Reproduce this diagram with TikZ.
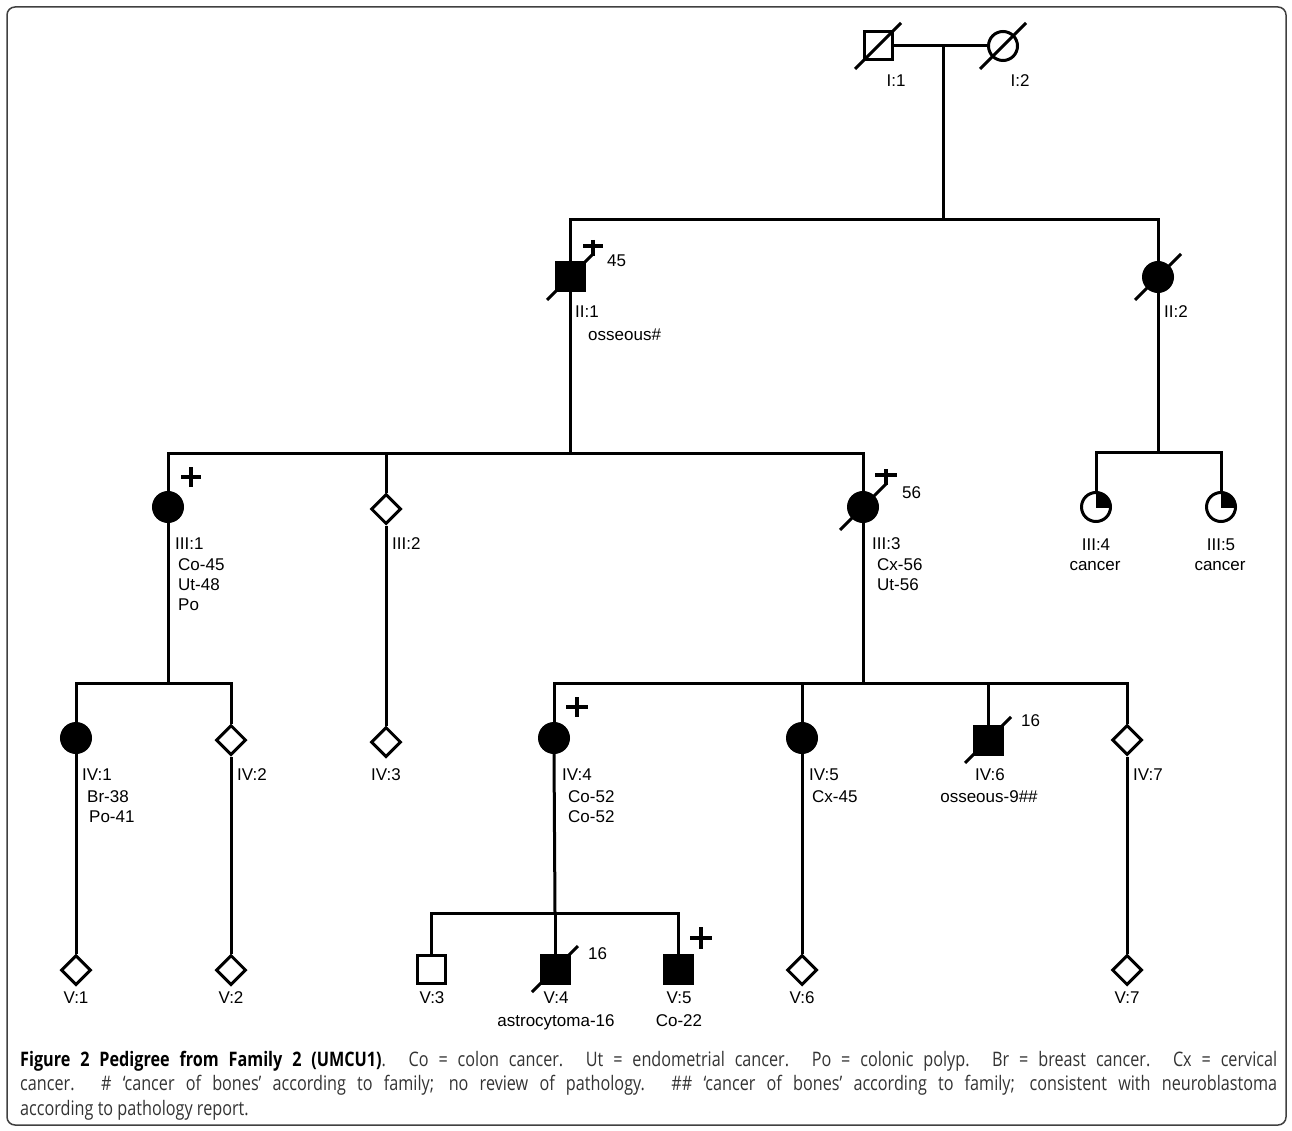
\documentclass[tikz,border=0pt]{standalone}
\usepackage{fontspec}
\setmainfont{Liberation Sans}
\newfontfamily\capfont[FakeStretch=0.81]{Open Sans}
\usetikzlibrary{shapes.geometric}
\definecolor{captxt}{gray}{0.2}
\begin{document}
\begin{tikzpicture}[x=1pt,y=-1pt,
  ped/.style={line width=3pt},
  male/.style={draw, line width=3pt, rectangle, minimum size=28pt, inner sep=0pt, fill=white},
  female/.style={draw, line width=3pt, circle, minimum size=29pt, inner sep=0pt, fill=white},
  unk/.style={draw, line width=3pt, diamond, minimum size=30pt, inner sep=0pt, fill=white},
  aff/.style={fill=black},
  lab/.style={font=\fontsize{17}{20}\selectfont, inner sep=0pt, anchor=base west},
  clab/.style={font=\fontsize{17}{20}\selectfont, inner sep=0pt, anchor=base},
  dec/.style={line width=3pt},
  plusmark/.style={line width=3.5pt}]
\useasboundingbox (0,0) rectangle (1292,1131);
\draw[line width=1.5pt, rounded corners=8pt, black!75] (7,7) rectangle (1286,1125);

% individuals
\node[male] (I1) at (878,46) {};
\node[female] (I2) at (1003,46) {};
\node[male,aff] (II1) at (570,277) {};
\node[female,aff] (II2) at (1158,277) {};
\node[female,aff] (III1) at (168,507) {};
\node[unk] (III2) at (386,509) {};
\node[female,aff] (III3) at (863,507) {};
\node[female] (III4) at (1096,507) {};
\node[female] (III5) at (1221,507) {};
\node[female,aff] (IV1) at (76,738) {};
\node[unk] (IV2) at (231,740) {};
\node[unk] (IV3) at (386,742) {};
\node[female,aff] (IV4) at (554,738) {};
\node[female,aff] (IV5) at (802,738) {};
\node[male,aff] (IV6) at (988,740) {};
\node[unk] (IV7) at (1127,740) {};
\node[unk] (V1) at (76,970) {};
\node[unk] (V2) at (231,970) {};
\node[male] (V3) at (431,969) {};
\node[male,aff] (V4) at (555,969) {};
\node[male,aff] (V5) at (678,969) {};
\node[unk] (V6) at (802,970) {};
\node[unk] (V7) at (1127,970) {};

% quarter fills
\begin{scope}
\clip (III4.center) rectangle ++(20,-20);
\fill (III4.center) circle[radius=15];
\end{scope}
\begin{scope}
\clip (III5.center) rectangle ++(20,-20);
\fill (III5.center) circle[radius=15];
\end{scope}

% junction coordinates
\coordinate (cI) at (943,46);
\coordinate (sII) at (943,220);
\coordinate (sIII) at (570,453);
\coordinate (sIIIb) at (1158,452);
\coordinate (sIVa) at (168,683);
\coordinate (sIVb) at (863,683);
\coordinate (sV) at (555,913);

% connectors
\draw[ped] (I1.east) -- (I2.west);
\draw[ped] (cI) -- (sII);
\draw[ped] (II1.north) |- (sII) -| (II2.north);
\draw[ped] (II1.south) -- (sIII);
\draw[ped] (III1.north) |- (sIII) -| (III3.north);
\draw[ped] (III2.north) -- (III2.north |- sIII);
\draw[ped] (II2.south) -- (sIIIb);
\draw[ped] (III4.north) |- (sIIIb) -| (III5.north);
\draw[ped] (III1.south) -- (sIVa);
\draw[ped] (IV1.north) |- (sIVa) -| (IV2.north);
\draw[ped] (III2.south) -- (IV3.north);
\draw[ped] (III3.south) -- (sIVb);
\draw[ped] (IV4.north) |- (sIVb) -| (IV7.north);
\draw[ped] (IV5.north) -- (IV5.north |- sIVb);
\draw[ped] (IV6.north) -- (IV6.north |- sIVb);
\draw[ped] (IV1.south) -- (V1.north);
\draw[ped] (IV2.south) -- (V2.north);
\draw[ped] (IV5.south) -- (V6.north);
\draw[ped] (IV7.south) -- (V7.north);
\draw[ped] (IV4.south) -- (sV);
\draw[ped] (V3.north) |- (sV) -| (V5.north);
\draw[ped] (V4.north) -- (V4.north |- sV);

% deceased slashes
\foreach \n in {I1,I2,II1,II2,III3,IV6,V4}
  \draw[dec] ([shift={(-23,23)}]\n.center) -- ([shift={(23,-23)}]\n.center);

% plus marks
\draw[plusmark] (583,246) -- (603,246) (593,240) -- (593,256);
\draw[plusmark] (875,475) -- (897,475) (886,469) -- (886,485);
\draw[plusmark] (181,477) -- (201,477) (191,467) -- (191,487);
\draw[plusmark] (566,707) -- (588,707) (577,697) -- (577,717);
\draw[plusmark] (690,938) -- (712,938) (701,927) -- (701,949);

% labels
\node[clab] (tI1) at (896,87) {I:1};
\node[clab] (tI2) at (1020,87) {I:2};
\node[lab] (a45) at (607,267) {45};
\node[lab] (tII1) at (575,317) {II:1};
\node[lab] (dII1) at (588,340) {osseous\#};
\node[lab] (tII2) at (1164,318) {II:2};
\node[lab] (tIII1) at (175,549) {III:1};
\node[lab] (dIII1a) at (178,570) {Co-45};
\node[lab] (dIII1b) at (178,590) {Ut-48};
\node[lab] (dIII1c) at (178,610) {Po};
\node[lab] (tIII2) at (392,549) {III:2};
\node[lab] (a56) at (902,498) {56};
\node[lab] (tIII3) at (872,549) {III:3};
\node[lab] (dIII3a) at (877,570) {Cx-56};
\node[lab] (dIII3b) at (877,590) {Ut-56};
\node[clab] (tIII4) at (1096,550) {III:4};
\node[clab] (dIII4) at (1095,570) {cancer};
\node[clab] (tIII5) at (1221,550) {III:5};
\node[clab] (dIII5) at (1220,570) {cancer};
\node[lab] (tIV1) at (82,780) {IV:1};
\node[lab] (dIV1a) at (87,802) {Br-38};
\node[lab] (dIV1b) at (89,822) {Po-41};
\node[lab] (tIV2) at (237,780) {IV:2};
\node[clab] (tIV3) at (386,780) {IV:3};
\node[lab] (tIV4) at (562,780) {IV:4};
\node[lab] (dIV4a) at (568,802) {Co-52};
\node[lab] (dIV4b) at (568,822) {Co-52};
\node[lab] (tIV5) at (809,780) {IV:5};
\node[lab] (dIV5) at (812,802) {Cx-45};
\node[lab] (a16a) at (1021,726) {16};
\node[clab] (tIV6) at (990,780) {IV:6};
\node[clab] (dIV6) at (989,802) {osseous-9\#\#};
\node[lab] (tIV7) at (1133,780) {IV:7};
\node[clab] (tV1) at (76,1003) {V:1};
\node[clab] (tV2) at (231,1003) {V:2};
\node[clab] (tV3) at (432,1003) {V:3};
\node[clab] (tV4) at (556,1003) {V:4};
\node[clab] (dV4) at (556,1026) {astrocytoma-16};
\node[lab] (a16b) at (588,959) {16};
\node[clab] (tV5) at (679,1003) {V:5};
\node[clab] (dV5) at (679,1026) {Co-22};
\node[clab] (tV6) at (802,1003) {V:6};
\node[clab] (tV7) at (1127,1003) {V:7};

% caption
\node[anchor=north west, inner sep=0pt, text width=1257pt, align=justify,
  font=\capfont\fontsize{20}{24.5}\selectfont, text=captxt] (cap) at (20,1049)
  {\strut\hyphenpenalty=10000{\color{black}\bfseries Figure 2 Pedigree from Family 2 (UMCU1)}. Co = colon cancer. Ut = endometrial cancer. Po = colonic polyp. Br = breast cancer. Cx = cervical\linebreak cancer. \# ‘cancer of bones’ according to family; no review of pathology. \#\# ‘cancer of bones’ according to family; consistent with neuroblastoma\linebreak according to pathology report.};
\end{tikzpicture}
\end{document}
